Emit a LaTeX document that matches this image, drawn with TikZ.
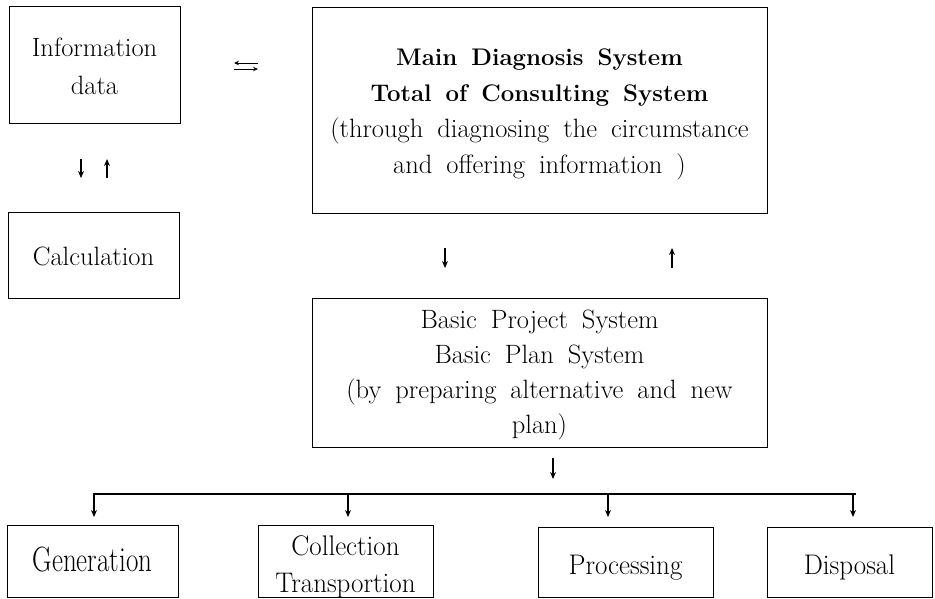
\documentclass[tikz,border=0pt]{standalone}
\usepackage{graphicx}
\usetikzlibrary{arrows.meta}

% serif text with wide word spaces
\newcommand\setfont[2]{\fontsize{#1}{#2}\selectfont\spaceskip=14pt\relax}
\newcommand\headline[1]{{\fontsize{24}{36}\selectfont\bfseries #1}}
\newcommand\up[1]{\rule{0pt}{#1}}
\newcommand\tallA[1]{\scalebox{1}[1.05]{#1}}
\newcommand\tallB[1]{\scalebox{1}[1.3]{#1}}

\tikzset{
  box/.style={draw, line width=1pt, inner sep=0pt, align=center, font=\setfont{26.5}{38}},
  lowbox/.style={box, font=\setfont{27}{37}},
  arr/.style={line width=1.2pt, -{Stealth[length=7pt,width=6pt]}},
  bar/.style={line width=1.8pt}
}

\begin{document}
\begin{tikzpicture}[x=1pt, y=-1pt]
\useasboundingbox (0,0) rectangle (935,598);

% left column
\node[box, minimum width=171pt, minimum height=117pt] (info) at (94.5,64.5)
  {\up{23pt}Information\\data};
\node[box, minimum width=171pt, minimum height=86pt, text height=20pt, text depth=0pt] (calc) at (93.5,255)
  {Calculation};

% main consulting system
\node[box, minimum width=455pt, minimum height=206pt, font=\setfont{26.5}{36}] (main) at (539.5,110)
  {\up{25pt}\headline{Main Diagnosis System}\\
   \headline{Total of Consulting System}\\
   (through diagnosing the circumstance\\
   and offering information )};

% basic plan system
\node[box, minimum width=455pt, minimum height=149pt, font=\setfont{26.5}{35}] (basic) at (539.5,372.5)
  {\up{23pt}Basic Project System\\
   Basic Plan System\\
   (by preparing alternative and new\\
   plan)};

% bottom row
\node[lowbox, minimum width=171pt, minimum height=72pt, text height=20pt, text depth=0pt] (gen) at (92.5,561)
  {\tallB{Generation}};
\node[lowbox, minimum width=175pt, minimum height=71pt] (coll) at (345.5,561.5)
  {\up{30pt}\tallA{Collection}\\\tallA{Transportion}};
\node[lowbox, minimum width=175pt, minimum height=70pt, text height=24pt, text depth=0pt] (proc) at (625.5,562)
  {\tallA{Processing}};
\node[lowbox, minimum width=165pt, minimum height=70pt, text height=24pt, text depth=0pt] (disp) at (849.5,562)
  {\tallA{Disposal}};

% arrow glyphs between the boxes
\coordinate (lA1) at (81,159);  \coordinate (lA2) at (81,178);
\coordinate (lB1) at (107,178); \coordinate (lB2) at (107,159);
\draw[arr] (lA1) -- (lA2);
\draw[arr] (lB1) -- (lB2);

\coordinate (hA1) at (258,63); \coordinate (hA2) at (234,63);
\coordinate (hB1) at (234,69); \coordinate (hB2) at (258,69);
\draw[line width=0.9pt, -{Stealth[length=5pt,width=4.5pt]}] (hA1) -- (hA2);
\draw[line width=0.9pt, -{Stealth[length=5pt,width=4.5pt]}] (hB1) -- (hB2);

\coordinate (mA1) at (445,248); \coordinate (mA2) at (445,268);
\coordinate (mB1) at (672,268); \coordinate (mB2) at (672,248);
\draw[arr] (mA1) -- (mA2);
\draw[arr] (mB1) -- (mB2);

\coordinate (cA1) at (553,458); \coordinate (cA2) at (553,479);
\draw[arr] (cA1) -- (cA2);

% distribution bar and drops
\coordinate (barL) at (93,494); \coordinate (barR) at (856,494);
\draw[bar] (barL) -- (barR);
\coordinate (d1) at (94,494);  \coordinate (e1) at (94,517);
\coordinate (d2) at (348,494); \coordinate (e2) at (348,517);
\coordinate (d3) at (608,494); \coordinate (e3) at (608,517);
\coordinate (d4) at (853,494); \coordinate (e4) at (853,517);
\draw[arr] (d1) -- (e1);
\draw[arr] (d2) -- (e2);
\draw[arr] (d3) -- (e3);
\draw[arr] (d4) -- (e4);
\end{tikzpicture}
\end{document}
